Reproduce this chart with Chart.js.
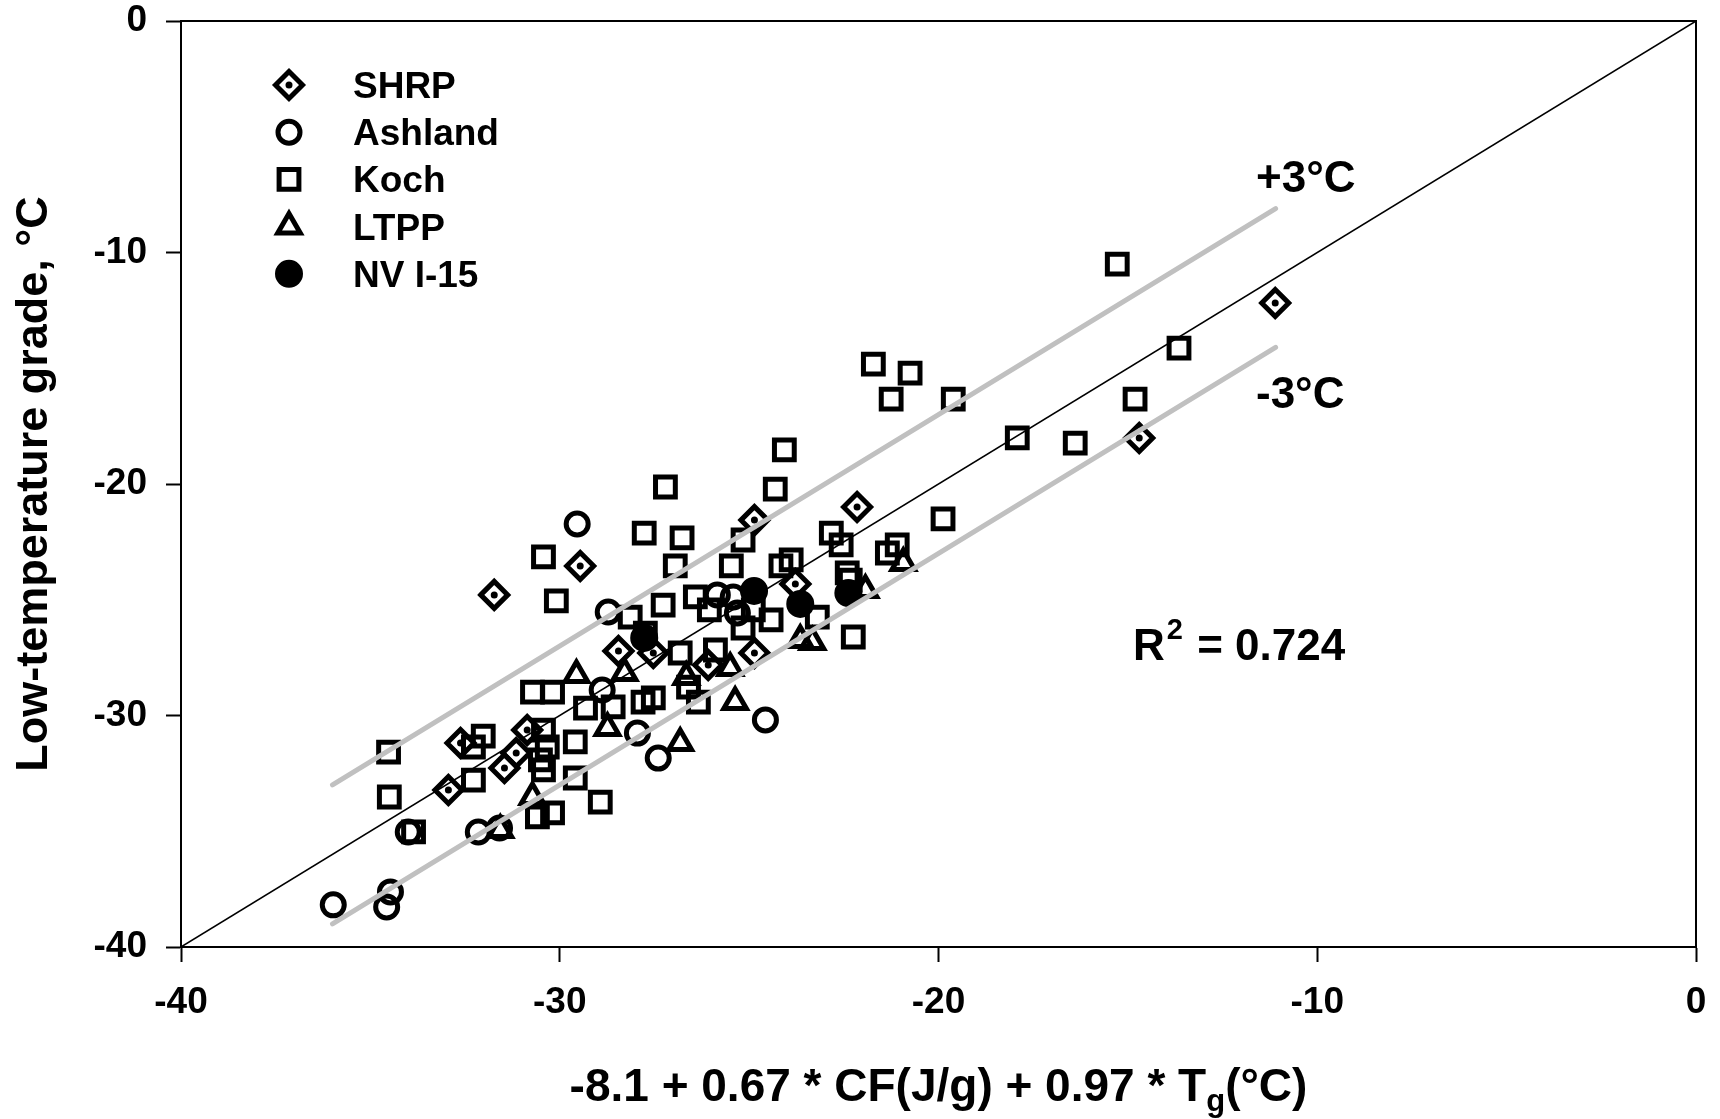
<!DOCTYPE html>
<html>
<head>
<meta charset="utf-8">
<script src="https://cdn.jsdelivr.net/npm/chart.js@4.4.1/dist/chart.umd.min.js"></script>
<style>
  html, body { margin: 0; padding: 0; background: #fff; }
  #wrap { width: 1720px; height: 1119px; }
</style>
</head>
<body>
<div id="wrap"><canvas id="grafico" width="1720" height="1119"></canvas></div>
<script>
// ------------------------------------------------------------------------------
// Datos: [x, y]
// ------------------------------------------------------------------------------
const shrp = [
    [-11.11, -12.18], [-14.70, -18.01], [-22.15, -20.99], [-24.86, -21.56],
    [-29.46, -23.54], [-31.73, -24.79], [-23.78, -24.32], [-28.45, -27.21],
    [-27.53, -27.30], [-26.08, -27.82], [-24.86, -27.30], [-30.86, -30.63],
    [-31.15, -31.62], [-31.46, -32.27], [-32.62, -31.19], [-32.94, -33.22]
];
const ashland = [
    [-29.54, -21.73], [-28.72, -25.53], [-25.84, -24.79], [-25.42, -24.88],
    [-25.31, -25.57], [-28.88, -28.90], [-27.95, -30.76], [-27.40, -31.84],
    [-24.57, -30.19], [-32.15, -35.03], [-31.59, -34.86], [-34.47, -37.62],
    [-34.57, -38.27], [-35.98, -38.18], [-34.00, -35.03]
];
const koch = [
    [-15.28, -10.50], [-13.65, -14.13], [-14.81, -16.33], [-21.72, -14.82],
    [-20.75, -15.21], [-21.25, -16.33], [-19.61, -16.33], [-17.92, -18.01],
    [-16.39, -18.23], [-19.88, -21.51], [-24.07, -18.53], [-27.21, -20.13],
    [-24.31, -20.22], [-27.77, -22.12], [-26.77, -22.33], [-25.16, -22.42],
    [-30.43, -23.15], [-30.09, -25.05], [-26.95, -23.54], [-25.47, -23.54],
    [-22.83, -22.12], [-22.57, -22.63], [-21.09, -22.63], [-21.35, -22.98],
    [-24.16, -23.54], [-23.89, -23.28], [-22.41, -23.84], [-22.33, -24.15],
    [-28.14, -25.75], [-27.27, -25.23], [-26.42, -24.88], [-26.05, -25.44],
    [-25.16, -26.22], [-24.89, -25.44], [-24.42, -25.87], [-23.20, -25.75],
    [-22.25, -26.61], [-27.74, -26.44], [-26.82, -27.30], [-25.89, -27.17],
    [-30.72, -28.99], [-30.19, -28.99], [-29.32, -29.68], [-28.59, -29.63],
    [-27.80, -29.42], [-27.53, -29.24], [-26.34, -29.42], [-26.60, -28.77],
    [-29.59, -31.14], [-30.43, -30.63], [-34.52, -31.58], [-34.50, -33.52],
    [-33.86, -35.03], [-32.28, -31.36], [-32.02, -30.89], [-32.28, -32.79],
    [-30.33, -31.36], [-30.43, -32.35], [-30.51, -31.92], [-29.59, -32.70],
    [-28.93, -33.74], [-30.59, -34.38], [-30.19, -34.21]
];
const ltpp = [
    [-20.93, -23.41], [-21.93, -24.58], [-23.65, -26.74], [-23.33, -26.83],
    [-29.56, -28.25], [-28.29, -28.16], [-26.66, -28.34], [-25.50, -27.95],
    [-25.37, -29.42], [-28.74, -30.54], [-26.82, -31.19], [-30.72, -33.52],
    [-31.57, -34.95]
];
const nvI15 = [
    [-24.87, -24.62], [-23.65, -25.18], [-22.38, -24.71], [-27.77, -26.65]
];
// Lineas de referencia
const lineaIgual = [[-40, -40], [0, 0]];
const lineaMas3 = [[-36, -33], [-11.1, -8.1]];
const lineaMenos3 = [[-36, -39], [-11.1, -14.1]];
const ticksEje = [-40, -30, -20, -10, 0];

const FUENTE = '"Liberation Sans", Arial, sans-serif';
const BORDE = 5;
const toPts = arr => arr.map(p => ({ x: p[0], y: p[1] }));

// Estilos de marcadores
const estilos = [
    { label: 'SHRP', data: shrp, pointStyle: 'rectRot', radius: 13.5, dot: true },
    { label: 'Ashland', data: ashland, pointStyle: 'circle', radius: 11 },
    { label: 'Koch', data: koch, pointStyle: 'rect', radius: 14 },
    { label: 'LTPP', data: ltpp, pointStyle: 'triangle', radius: 13 },
    { label: 'NV I-15', data: nvI15, pointStyle: 'circle', radius: 11.5, filled: true }
];

let datasets = [
    { label: '+3', data: toPts(lineaMas3), showLine: true, borderColor: '#c0c0c0', borderWidth: 5,
      borderCapStyle: 'round', pointRadius: 0, order: 0 },
    { label: '-3', data: toPts(lineaMenos3), showLine: true, borderColor: '#c0c0c0', borderWidth: 5,
      borderCapStyle: 'round', pointRadius: 0, order: 0 },
    { label: '1:1', data: toPts(lineaIgual), showLine: true, borderColor: '#000', borderWidth: 1.5,
      pointRadius: 0, order: 1 }
];
for (let e of estilos) {
    datasets.push({
        label: e.label,
        data: toPts(e.data),
        pointStyle: e.pointStyle,
        pointRadius: e.radius,
        pointHoverRadius: e.radius,
        pointBorderWidth: BORDE,
        pointBorderColor: '#000',
        pointBackgroundColor: e.filled ? '#000' : 'rgba(0,0,0,0)',
        showLine: false,
        order: 2
    });
    if (e.dot) {
        datasets.push({
            label: e.label + ' dot',
            data: toPts(e.data),
            pointStyle: 'circle',
            pointRadius: 3.5,
            pointBorderWidth: 0,
            pointBackgroundColor: '#000',
            showLine: false,
            order: 2
        });
    }
}

// Plugin: marco, leyenda, anotaciones y titulo del eje X
const extras = {
    id: 'extras',
    afterDraw(chart) {
        const ctx = chart.ctx;
        const a = chart.chartArea;
        ctx.save();
        ctx.strokeStyle = '#000';
        ctx.lineWidth = 2;
        ctx.strokeRect(a.left, a.top, a.right - a.left, a.bottom - a.top);

        // Leyenda
        ctx.fillStyle = '#000';
        ctx.font = 'bold 37px ' + FUENTE;
        ctx.textBaseline = 'alphabetic';
        ctx.textAlign = 'left';
        let yRow = 85;
        for (let e of estilos) {
            ctx.strokeStyle = '#000';
            ctx.lineWidth = BORDE;
            ctx.fillStyle = e.filled ? '#000' : 'rgba(0,0,0,0)';
            Chart.helpers.drawPoint(ctx, { pointStyle: e.pointStyle, radius: e.radius, borderWidth: BORDE, rotation: 0 }, 289, yRow);
            if (e.dot) {
                ctx.fillStyle = '#000';
                Chart.helpers.drawPoint(ctx, { pointStyle: 'circle', radius: 3.5, borderWidth: 0, rotation: 0 }, 289, yRow);
            }
            ctx.fillStyle = '#000';
            ctx.fillText(e.label, 353, yRow + 13);
            yRow += 47.2;
        }

        // Anotaciones
        ctx.font = 'bold 44px ' + FUENTE;
        ctx.fillText('+3°C', 1256, 192);
        ctx.fillText('-3°C', 1256, 408);
        ctx.fillText('R', 1133, 660);
        let w = ctx.measureText('R').width;
        ctx.font = 'bold 29px ' + FUENTE;
        ctx.fillText('2', 1133 + w + 2, 639);
        let w2 = ctx.measureText('2').width;
        ctx.font = 'bold 44px ' + FUENTE;
        ctx.fillText(' = 0.724', 1133 + w + w2 + 4, 660);

        // Titulo eje X con subindice
        const p1 = '-8.1 + 0.67 * CF(J/g) + 0.97 * T';
        const p2 = 'g';
        const p3 = '(°C)';
        ctx.font = 'bold 46px ' + FUENTE;
        const w1 = ctx.measureText(p1).width;
        const w3 = ctx.measureText(p3).width;
        ctx.font = 'bold 31px ' + FUENTE;
        const wg = ctx.measureText(p2).width;
        const total = w1 + wg + w3;
        let x0 = (a.left + a.right) / 2 - total / 2;
        ctx.font = 'bold 46px ' + FUENTE;
        ctx.fillText(p1, x0, 1101);
        ctx.font = 'bold 31px ' + FUENTE;
        ctx.fillText(p2, x0 + w1, 1111);
        ctx.font = 'bold 46px ' + FUENTE;
        ctx.fillText(p3, x0 + w1 + wg, 1101);
        ctx.restore();
    }
};

const ejeBase = {
    type: 'linear',
    min: -40,
    max: 0,
    afterBuildTicks: scale => { scale.ticks = ticksEje.map(v => ({ value: v })); },
    grid: { display: true, drawOnChartArea: false, drawTicks: true, tickLength: 15, tickWidth: 2, tickColor: '#000' },
    border: { display: true, color: '#000', width: 2 },
};

new Chart(document.getElementById('grafico'), {
    type: 'scatter',
    data: { datasets: datasets },
    options: {
        responsive: false,
        animation: false,
        layout: { autoPadding: false, padding: { top: 21, right: 24, left: 0, bottom: 0 } },
        plugins: { legend: { display: false }, tooltip: { enabled: false } },
        scales: {
            x: Object.assign({}, ejeBase, {
                ticks: { color: '#000', font: { family: FUENTE, size: 37, weight: 'bold', lineHeight: 1 }, padding: 22, maxRotation: 0 },
                afterFit: scale => {
                    scale.height = 172;
                    scale.paddingLeft = 0;
                    scale.paddingRight = 0;
                }
            }),
            y: Object.assign({}, ejeBase, {
                ticks: { color: '#000', font: { family: FUENTE, size: 37, weight: 'bold', lineHeight: 1 }, padding: 19 },
                title: { display: true, text: 'Low-temperature grade, °C', color: '#000',
                         font: { family: FUENTE, size: 45, weight: 'bold' }, padding: { top: 8, bottom: 0 } },
                afterFit: scale => {
                    scale.width = 181;
                    scale.paddingTop = 0;
                    scale.paddingBottom = 0;
                }
            })
        }
    },
    plugins: [extras]
});
</script>
</body>
</html>
